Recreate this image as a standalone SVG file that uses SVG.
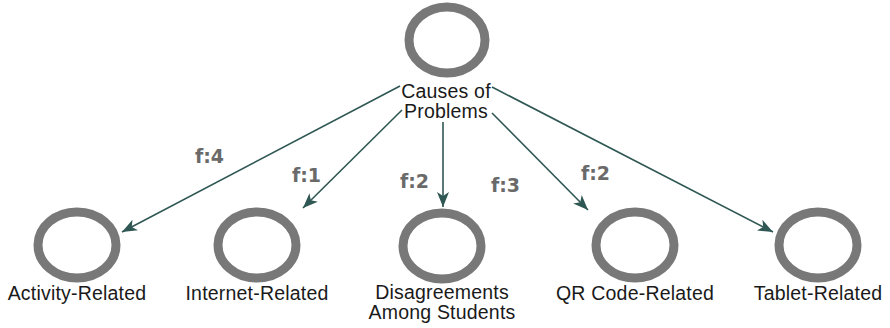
<svg xmlns="http://www.w3.org/2000/svg" width="890" height="328" viewBox="0 0 890 328">
  <style>
    .ring { fill: none; stroke: #787878; stroke-width: 9; }
    .lbl { font-family: "Liberation Sans", Arial, sans-serif; font-size: 19.5px; letter-spacing: 0.2px; fill: #1a1a1a; text-anchor: middle; }
    .edge { stroke: #2f5753; stroke-width: 1.6; fill: none; marker-end: url(#arrow); }
    .freq { font-family: "DejaVu Sans", Verdana, sans-serif; font-weight: bold; font-size: 19px; fill: #6a6a6a; }
  </style>
  <defs>
    <marker id="arrow" markerUnits="userSpaceOnUse" markerWidth="16" markerHeight="12" viewBox="0 0 16 12" refX="15" refY="6" orient="auto">
      <path d="M0,0 L15,6 L0,12 L4,6 Z" fill="#2f5753"/>
    </marker>
  </defs>

  <rect width="890" height="328" fill="#ffffff"/>

  <g id="connectors">
    <line class="edge" x1="400" y1="86" x2="122" y2="232"/>
    <line class="edge" x1="402" y1="110" x2="303" y2="208"/>
    <line class="edge" x1="443" y1="122" x2="443" y2="207"/>
    <line class="edge" x1="492" y1="113" x2="588" y2="210"/>
    <line class="edge" x1="492" y1="87" x2="773" y2="232"/>
    <text class="freq" x="195" y="163">f:4</text>
    <text class="freq" x="292" y="182">f:1</text>
    <text class="freq" x="400" y="188">f:2</text>
    <text class="freq" x="491" y="192">f:3</text>
    <text class="freq" x="581" y="180">f:2</text>
  </g>

  <g id="causes">
    <ellipse class="ring" cx="447" cy="40" rx="38" ry="33"/>
    <text class="lbl" x="446" y="98">Causes of</text>
    <text class="lbl" x="446" y="118">Problems</text>
  </g>

  <g id="activity">
    <ellipse class="ring" cx="77" cy="245" rx="39" ry="33"/>
    <text class="lbl" x="77" y="300">Activity-Related</text>
  </g>

  <g id="internet">
    <ellipse class="ring" cx="257" cy="245" rx="39" ry="33"/>
    <text class="lbl" x="257" y="300">Internet-Related</text>
  </g>

  <g id="disagreements">
    <ellipse class="ring" cx="442" cy="246" rx="39" ry="33"/>
    <text class="lbl" x="442" y="299">Disagreements</text>
    <text class="lbl" x="442" y="319">Among Students</text>
  </g>

  <g id="qrcode">
    <ellipse class="ring" cx="635" cy="245" rx="39" ry="33"/>
    <text class="lbl" x="635" y="300">QR Code-Related</text>
  </g>

  <g id="tablet">
    <ellipse class="ring" cx="818" cy="245" rx="39" ry="33"/>
    <text class="lbl" x="818" y="300">Tablet-Related</text>
  </g>
</svg>
